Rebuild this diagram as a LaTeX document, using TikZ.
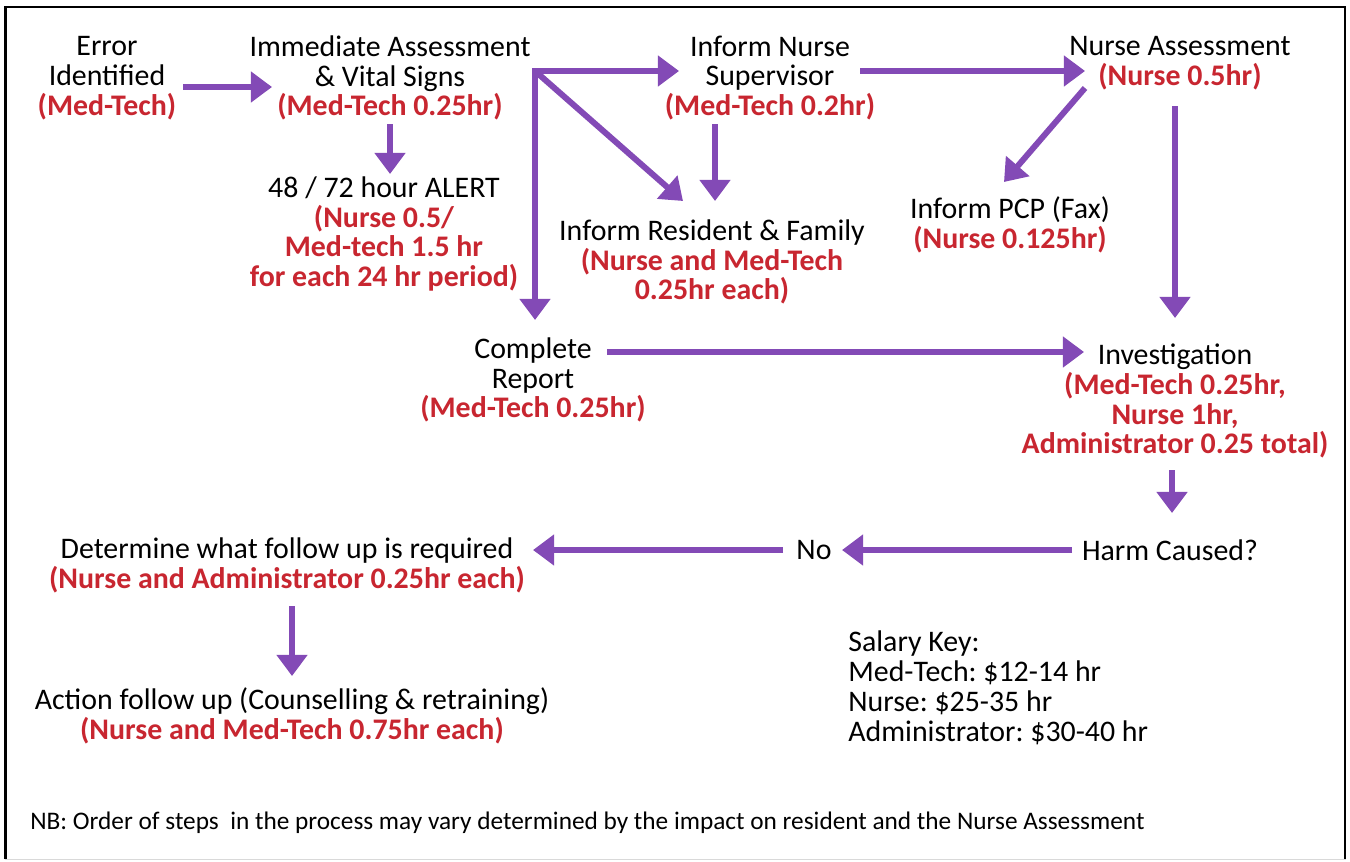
\documentclass[tikz,border=0pt]{standalone}
\usepackage{fontspec}
\setmainfont{Carlito}
\usetikzlibrary{arrows.meta}
\definecolor{costred}{RGB}{200,38,48}
\definecolor{flowpurple}{RGB}{131,74,182}
\frenchspacing
\begin{document}
\begin{tikzpicture}[x=0.02cm,y=-0.02cm,
  txt/.style={inner sep=0pt,align=center,font=\fontsize{17}{17}\selectfont},
  arr/.style={draw=flowpurple,line width=3.4pt,
    -{Triangle[length=12pt,width=17pt]}}]
% page and frame
\fill[white] (0,0) rectangle (1350,862);
\useasboundingbox (0,0) rectangle (1350,862);
\draw[line width=1.6pt] (5.5,859) -- (5.5,7) -- (1345,7) -- (1345,859);
\draw[line width=1pt,black!15] (5,859.5) -- (1345.5,859.5);

% steps
\node[txt] (err) at (107,78) {Error\\Identified\\{\color{costred}\bfseries(Med-Tech)}};
\node[txt] (imm) at (390,78) {Immediate Assessment\\\& Vital Signs\\{\color{costred}\bfseries(Med-Tech 0.25hr)}};
\node[txt] (sup) at (770,78) {Inform Nurse\\Supervisor\\{\color{costred}\bfseries(Med-Tech 0.2hr)}};
\node[txt] (nas) at (1180,63) {Nurse Assessment\\{\color{costred}\bfseries(Nurse 0.5hr)}};
\node[txt] (alert) at (384,234) {48 / 72 hour ALERT\\{\color{costred}\bfseries(Nurse 0.5/}\\{\color{costred}\bfseries Med-tech 1.5 hr}\\{\color{costred}\bfseries for each 24 hr period)}};
\node[txt] (res) at (712,262) {Inform Resident \& Family\\{\color{costred}\bfseries(Nurse and Med-Tech}\\{\color{costred}\bfseries 0.25hr each)}};
\node[txt] (pcp) at (1010,225) {Inform PCP (Fax)\\{\color{costred}\bfseries(Nurse 0.125hr)}};
\node[txt] (rep) at (533,380) {Complete\\Report\\{\color{costred}\bfseries(Med-Tech 0.25hr)}};
\node[txt] (inv) at (1175,401) {Investigation\\{\color{costred}\bfseries(Med-Tech 0.25hr,}\\{\color{costred}\bfseries Nurse 1hr,}\\{\color{costred}\bfseries Administrator 0.25 total)}};
\node[txt] (harm) at (1170,550) {Harm Caused?};
\node[txt] (no) at (814,550) {No};
\node[txt] (det) at (287,565) {Determine what follow up is required\\{\color{costred}\bfseries(Nurse and Administrator 0.25hr each)}};
\node[txt] (act) at (292,716) {Action follow up (Counselling \& retraining)\\{\color{costred}\bfseries(Nurse and Med-Tech 0.75hr each)}};
\node[txt,align=left,anchor=west] (key) at (848,688) {Salary Key:\\Med-Tech: \$12-14 hr\\Nurse: \$25-35 hr\\Administrator: \$30-40 hr};
\node[inner sep=0pt,anchor=west,font=\fontsize{14.4}{15}\selectfont] (nb) at (30,823) {NB: Order of steps\ \ in the process may vary determined by the impact on resident and the Nurse Assessment};

% branch point after the assessment
\coordinate (fork) at ([shift={(145,-7)}]imm.center);

% connectors
\draw[arr] ([shift={(76,9)}]err.center) -- ([shift={(-118,9)}]imm.center);
\draw[arr] ([shift={(0,46)}]imm.center) -- ([shift={(6,-60)}]alert.center);
\draw[arr,-] ([shift={(142,-7)}]imm.center) -- (fork);
\draw[arr] (fork) -- ([shift={(-91,-7)}]sup.center);
\draw[arr] ([shift={(0,-1.5)}]fork) -- ([shift={(2,-60)}]rep.center);
\draw[arr] (fork) -- ([shift={(-29,-61)}]res.center);
\draw[arr] ([shift={(-55,46)}]sup.center) -- ([shift={(3,-61)}]res.center);
\draw[arr] ([shift={(90,-7)}]sup.center) -- ([shift={(-95,8)}]nas.center);
\draw[arr] ([shift={(-95,25)}]nas.center) -- ([shift={(-6,-43)}]pcp.center);
\draw[arr] ([shift={(-5,43)}]nas.center) -- ([shift={(0,-83)}]inv.center);
\draw[arr] ([shift={(74,-28)}]rep.center) -- ([shift={(-91,-49)}]inv.center);
\draw[arr] ([shift={(-3,69)}]inv.center) -- ([shift={(2,-37)}]harm.center);
\draw[arr] ([shift={(-98,0)}]harm.center) -- ([shift={(28,0)}]no.center);
\draw[arr] ([shift={(-31,0)}]no.center) -- ([shift={(246,-15)}]det.center);
\draw[arr] ([shift={(5,41)}]det.center) -- ([shift={(0,-40)}]act.center);
\end{tikzpicture}
\end{document}
